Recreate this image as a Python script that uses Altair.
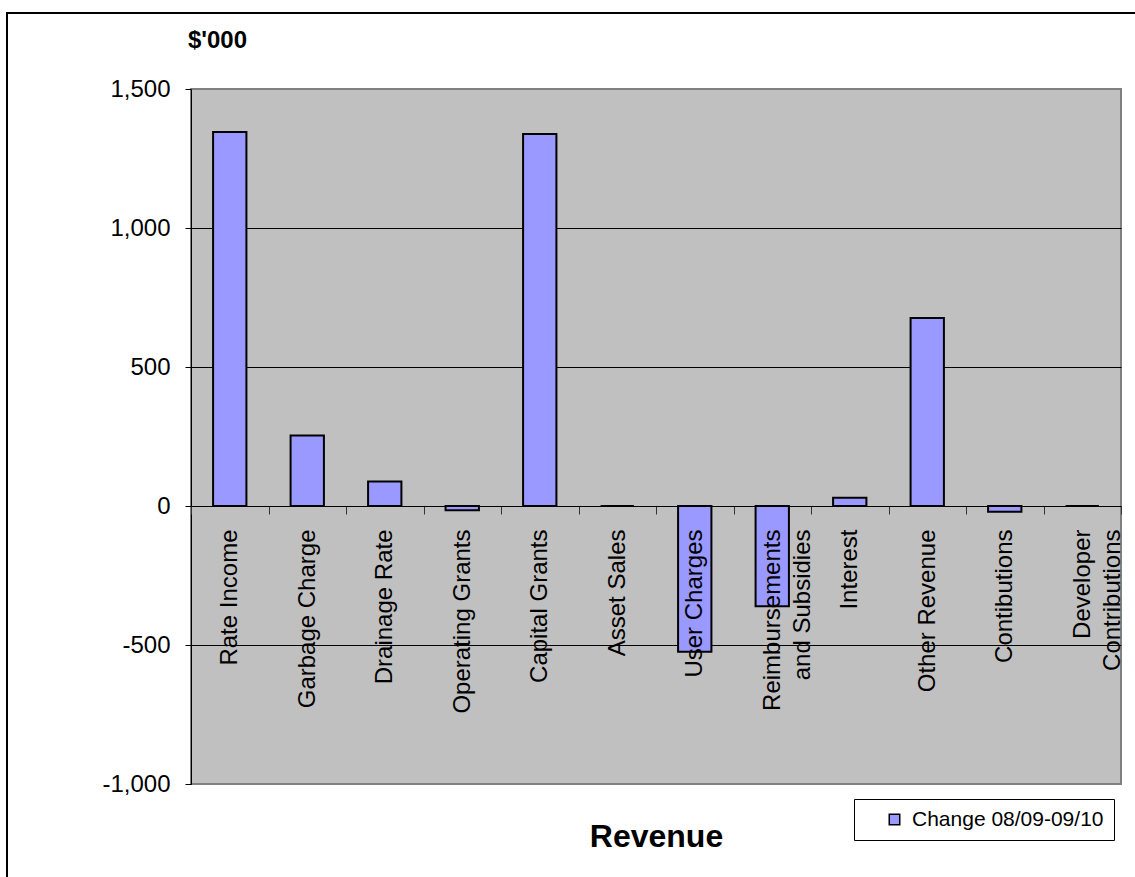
import altair as alt
import pandas as pd

categories = [
    "Rate Income", "Garbage Charge", "Drainage Rate", "Operating Grants",
    "Capital Grants", "Asset Sales", "User Charges", "Reimbursements and Subsidies",
    "Interest", "Other Revenue", "Contibutions", "Developer Contributions",
]
values = [1345, 254, 88, -15, 1338, 0, -524, -361, 30, 676, -21, 0]
series_name = "Change 08/09-09/10"
y_ticks = [-1000, -500, 0, 500, 1000, 1500]

df = pd.DataFrame({"Category": categories, "Value": values, "Series": [series_name] * len(categories)})

FONT = "Liberation Sans"

label_expr = (
    "datum.label == 'Reimbursements and Subsidies' ? ['Reimbursements', 'and Subsidies'] : "
    "datum.label == 'Developer Contributions' ? ['Developer', 'Contributions'] : datum.label"
)

bars = alt.Chart(df).mark_bar(stroke="black", strokeWidth=2, width={"band": 0.43}).encode(
    x=alt.X(
        "Category:N",
        sort=categories,
        scale=alt.Scale(paddingInner=0, paddingOuter=0),
        axis=alt.Axis(
            title="Revenue",
            titleFont=FONT, titleFontSize=32, titleFontWeight="bold", titleColor="black",
            titleX=465, titleY=340, titleAlign="center", titleBaseline="alphabetic",
            offset=-278, zindex=1,
            labelAngle=-90, labelFont=FONT, labelFontSize=24, labelColor="black",
            labelPadding=15, labelLineHeight=30, labelExpr=label_expr, labelLimit=400,
            labelOverlap=False,
            tickBand="extent", tickSize=8, tickColor="#333333", tickWidth=1,
            domainColor="black", domainWidth=1, grid=False,
        ),
    ),
    y=alt.Y(
        "Value:Q",
        scale=alt.Scale(domain=[-1000, 1500], nice=False, zero=False),
        axis=alt.Axis(
            title="$'000",
            titleFont=FONT, titleFontSize=24, titleFontWeight="bold", titleColor="black",
            titleAngle=0, titleX=26, titleY=-42, titleAlign="center", titleBaseline="alphabetic",
            values=y_ticks, format=",d",
            labelExpr="replace(datum.label, '\u2212', '-')",
            labelFont=FONT, labelFontSize=24, labelColor="black", labelPadding=15,
            tickSize=6, tickColor="black", domainColor="black", domainWidth=1,
            grid=True, gridWidth=1,
            gridColor={"condition": {"test": "datum.value == 1500 || datum.value == -1000", "value": "#808080"}, "value": "black"},
        ),
    ),
    fill=alt.Fill(
        "Series:N",
        scale=alt.Scale(domain=[series_name], range=["#9999FF"]),
        legend=alt.Legend(
            title=None, orient="none", legendX=663, legendY=710,
            padding=10, strokeColor="black", fillColor="white",
            symbolType="square", symbolSize=110, symbolStrokeColor="black", symbolStrokeWidth=1.5,
            symbolOffset=20, labelOffset=7, labelLimit=400,
            labelFont=FONT, labelFontSize=21, labelColor="black",
        ),
    ),
)

frame = alt.Chart(pd.DataFrame({"f": [0]})).mark_rect(
    fill=None, stroke="black", strokeWidth=2
).encode(
    x=alt.value(-184), x2=alt.value(1000), y=alt.value(-76), y2=alt.value(850)
)

chart = alt.layer(frame, bars).properties(
    width=930, height=695,
    padding={"left": 191, "top": 89, "right": 14, "bottom": 93},
    autosize=alt.AutoSizeParams(type="none"),
    background="white",
).configure_view(
    fill="#C0C0C0", stroke="#808080", strokeWidth=2
)

chart.save("out.html", embed_options={"renderer": "svg", "actions": False})
